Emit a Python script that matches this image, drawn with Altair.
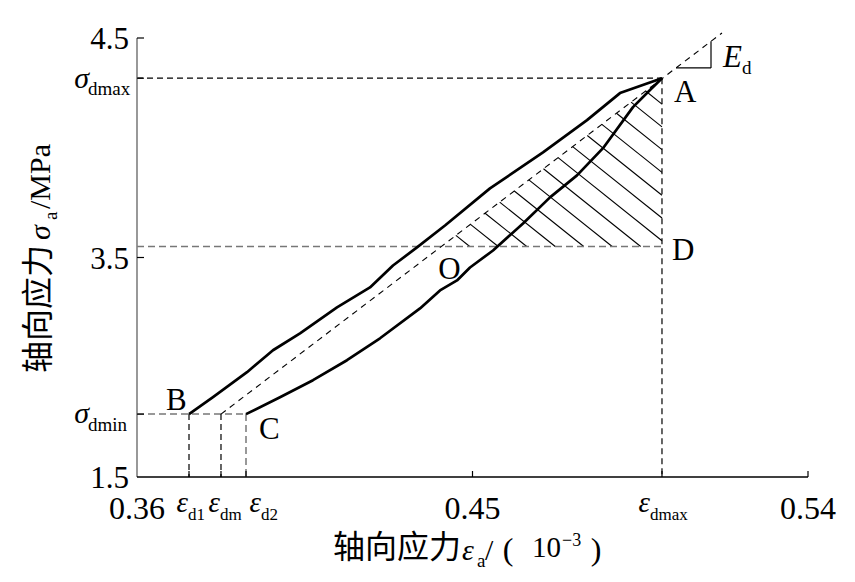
import altair as alt
import pandas as pd
import numpy as np

W, H = 671, 439
SERIF = "Liberation Serif"
CJK = "Noto Sans CJK SC"

# ---------------- data ----------------
X_DOMAIN = [0.36, 0.54]
Y_BREAKS = [1.5, 3.5, 4.5]          # the original axis is piecewise: 1.5 -> 3.5 -> 4.5 equally spaced
X_TICK_LABELS = [0.36, 0.45, 0.54]
Y_TICK_LABELS = [1.5, 3.5, 4.5]

upper_x = [0.37395, 0.38039, 0.38951, 0.39648, 0.40373, 0.41365, 0.42250, 0.42867,
           0.43511, 0.44262, 0.45469, 0.46891, 0.48072, 0.48957, 0.50083]
upper_y = [2.073, 2.227, 2.455, 2.655, 2.809, 3.045, 3.227, 3.427,
           3.546, 3.646, 3.815, 3.979, 4.126, 4.249, 4.317]

lower_x = [0.38924, 0.39836, 0.40721, 0.41633, 0.42519, 0.43592, 0.44128, 0.44584, 0.44933,
           0.45550, 0.46355, 0.47079, 0.47803, 0.48501, 0.49305, 0.49762, 0.50083]
lower_y = [2.073, 2.227, 2.382, 2.564, 2.764, 3.036, 3.200, 3.291, 3.409,
           3.532, 3.655, 3.774, 3.874, 3.998, 4.185, 4.263, 4.317]

eps_d1, eps_dm, eps_d2, eps_dmax = 0.37395, 0.38253, 0.38924, 0.50083
sig_dmin, sig_dmax, sig_D = 2.073, 4.317, 3.550
ed_end = (0.51693, 4.523)            # end of the dashed E_d line
ed_tri_x = [0.50459, 0.51398]        # slope triangle x extent
HATCH_STEP_PX = 14.6
HATCH_SLOPE_PX = 0.8

# ---------------- scales & helpers ----------------
xs = alt.Scale(domain=X_DOMAIN, range=[0, W], nice=False, zero=False)
ys = alt.Scale(domain=Y_BREAKS, range=[H, H / 2, 0], nice=False, zero=False)


def xpx(v):
    return (v - X_DOMAIN[0]) / (X_DOMAIN[1] - X_DOMAIN[0]) * W


def ypx(v):
    if v >= Y_BREAKS[1]:
        return H / 2 - (v - Y_BREAKS[1]) / (Y_BREAKS[2] - Y_BREAKS[1]) * (H / 2)
    return H - (v - Y_BREAKS[0]) / (Y_BREAKS[1] - Y_BREAKS[0]) * (H / 2)


def xdat(p):
    return X_DOMAIN[0] + p / W * (X_DOMAIN[1] - X_DOMAIN[0])


def ydat(p):
    if p <= H / 2:
        return Y_BREAKS[1] + (H / 2 - p) / (H / 2) * (Y_BREAKS[2] - Y_BREAKS[1])
    return Y_BREAKS[0] + (H - p) / (H / 2) * (Y_BREAKS[1] - Y_BREAKS[0])


X = lambda f="x": alt.X(f"{f}:Q", scale=xs, axis=None)
Y = lambda f="y": alt.Y(f"{f}:Q", scale=ys, axis=None)

# dashed line through (eps_dm, sig_dmin) and A, in pixel space
p1 = (xpx(eps_dm), ypx(sig_dmin))
p2 = (xpx(ed_end[0]), ypx(ed_end[1]))
slope = (p2[1] - p1[1]) / (p2[0] - p1[0])
line_y_at = lambda px: p1[1] + slope * (px - p1[0])
Ax, Ay = xpx(eps_dmax), ypx(sig_dmax)
yD = ypx(sig_D)
Ox = p1[0] + (yD - p1[1]) / slope

hatch = []
k = 1
while Ox + k * HATCH_STEP_PX < Ax - 2:
    sx = Ox + k * HATCH_STEP_PX
    sy = line_y_at(sx)
    ex = sx + (yD - sy) / HATCH_SLOPE_PX
    if ex <= Ax:
        ey = yD
    else:
        ex, ey = Ax, sy + HATCH_SLOPE_PX * (Ax - sx)
    hatch.append(dict(x=xdat(sx), y=ydat(sy), x2=xdat(ex), y2=ydat(ey)))
    k += 1

t0 = (xpx(ed_tri_x[0]), line_y_at(xpx(ed_tri_x[0])))
t1 = (xpx(ed_tri_x[1]), line_y_at(xpx(ed_tri_x[1])))
tri = [dict(x=xdat(t0[0]), y=ydat(t0[1]), x2=xdat(t1[0]), y2=ydat(t0[1])),
       dict(x=xdat(t1[0]), y=ydat(t0[1]), x2=xdat(t1[0]), y2=ydat(t1[1]))]

black_dash = pd.DataFrame([
    dict(x=X_DOMAIN[0], y=sig_dmax, x2=eps_dmax, y2=sig_dmax),
    dict(x=eps_dmax, y=sig_dmax, x2=eps_dmax, y2=Y_BREAKS[0]),
    dict(x=eps_d1, y=sig_dmin, x2=eps_d1, y2=Y_BREAKS[0]),
    dict(x=eps_dm, y=sig_dmin, x2=eps_dm, y2=Y_BREAKS[0]),
])
gray_dash = pd.DataFrame([
    dict(x=X_DOMAIN[0], y=sig_D, x2=eps_dmax, y2=sig_D),
    dict(x=X_DOMAIN[0], y=sig_dmin, x2=eps_d2, y2=sig_dmin),
    dict(x=eps_d2, y=sig_dmin, x2=eps_d2, y2=Y_BREAKS[0]),
])
ed_line = pd.DataFrame([dict(x=eps_dm, y=sig_dmin, x2=ed_end[0], y2=ed_end[1])])


def seg(df, color="black", width=1.2, dash=None):
    kw = dict(color=color, strokeWidth=width)
    if dash:
        kw["strokeDash"] = dash
    return alt.Chart(pd.DataFrame(df)).mark_rule(**kw).encode(
        x=X(), y=Y(), x2="x2:Q", y2="y2:Q")


curve_df = pd.concat([
    pd.DataFrame(dict(x=upper_x, y=upper_y, c="up", i=range(len(upper_x)))),
    pd.DataFrame(dict(x=lower_x, y=lower_y, c="low", i=range(len(lower_x)))),
])
curves = alt.Chart(curve_df).mark_line(color="black", strokeWidth=2.7, strokeJoin="round").encode(
    x=X(), y=Y(), detail="c:N", order="i:Q")

# axis lines and inward ticks
axis_left = alt.Chart(pd.DataFrame({"a": [0]})).mark_rule(color="#7f7f7f", strokeWidth=1.6).encode(
    x=alt.value(0), y=alt.value(0), y2=alt.value(H))
axis_bottom = alt.Chart(pd.DataFrame({"a": [0]})).mark_rule(color="black", strokeWidth=1.4).encode(
    x=alt.value(0), x2=alt.value(W), y=alt.value(H))
xt = alt.Chart(pd.DataFrame({"x": [eps_d1, eps_dm, eps_d2, 0.45, eps_dmax, 0.54]})).mark_rule(
    color="black", strokeWidth=1.2).encode(x=X(), y=alt.value(H), y2=alt.value(H - 6))
yt = alt.Chart(pd.DataFrame({"y": [sig_dmin, 3.5, sig_dmax, 4.5]})).mark_rule(
    color="black", strokeWidth=1.2).encode(y=Y(), x=alt.value(0), x2=alt.value(7))


def txt(text, x=None, y=None, px=None, py=None, size=28, font=SERIF, style="normal",
        align="left", baseline="alphabetic", dx=0, dy=0, angle=0):
    df = pd.DataFrame({"t": [text], "x": [x if x is not None else 0], "y": [y if y is not None else 0]})
    enc = dict(text="t:N")
    enc["x"] = X() if x is not None else alt.value(px)
    enc["y"] = Y() if y is not None else alt.value(py)
    return alt.Chart(df).mark_text(font=font, fontSize=size, fontStyle=style, align=align,
                                   baseline=baseline, dx=dx, dy=dy, angle=angle,
                                   color="black").encode(**enc)


texts = []
# y tick labels
for v in Y_TICK_LABELS:
    texts.append(txt(f"{v:.1f}", y=v, px=-8, align="right", dy=11, size=31))
for v, sub, d1, d2 in [(sig_dmax, "dmax", 10, 17), (sig_dmin, "dmin", 9, 17)]:
    texts.append(txt("σ", y=v, px=-48, align="right", dy=d1, size=30, style="italic"))
    texts.append(txt(sub, y=v, px=-49, align="left", dy=d2, size=19))
# x tick labels
for v in X_TICK_LABELS:
    texts.append(txt(f"{v:.2f}", x=v, py=481, align="center", size=32))
for v, sub, ddx in [(eps_d1, "d1", -1), (eps_dm, "dm", -1), (eps_d2, "d2", 15), (eps_dmax, "dmax", -12)]:
    texts.append(txt("ε", x=v, py=474, align="right", dx=ddx, size=29, style="italic"))
    texts.append(txt(sub, x=v, py=482, align="left", dx=ddx, size=17))
# point labels
O_x, O_y = xdat(Ox), sig_D
for lab, x, y, ddx, ddy in [("A", eps_dmax, sig_dmax, 12, 24), ("D", eps_dmax, sig_D, 10, 13),
                            ("B", eps_d1, sig_dmin, -23, -4), ("C", eps_d2, sig_dmin, 13, 25),
                            ("O", O_x, O_y, -3, 32)]:
    texts.append(txt(lab, x=x, y=y, dx=ddx, dy=ddy, size=31))
texts.append(txt("E", x=ed_tri_x[1], y=ydat(t0[1]), dx=12, dy=-1, size=31, style="italic"))
texts.append(txt("d", x=ed_tri_x[1], y=ydat(t0[1]), dx=31, dy=6, size=19))

# y axis title (rotated, reading upward)
texts.append(txt("轴向应力", px=-88, py=335, size=32, font=CJK, angle=270))
texts.append(txt("σ", px=-87, py=202, size=30, style="italic", angle=270))
texts.append(txt("a", px=-80, py=182, size=19, angle=270))
texts.append(txt("/MPa", px=-87, py=171, size=30, angle=270))
# x axis title
texts.append(txt("轴向应力", px=196, py=520, size=32, font=CJK))
texts.append(txt("ε", px=325, py=522, size=30, style="italic"))
texts.append(txt("a", px=340, py=529, size=19))
texts.append(txt("/", px=348, py=522, size=30))
texts.append(txt("(", px=371, py=522, size=32, align="center"))
texts.append(txt("10", px=395, py=519, size=29))
texts.append(txt("−3", px=425, py=508, size=18))
texts.append(txt(")", px=459, py=522, size=32, align="center"))

layers = [
    seg(hatch, width=1.1),
    seg(gray_dash, color="#777777", width=1.5, dash=[7, 4]),
    seg(black_dash, width=1.2, dash=[6, 4]),
    seg(ed_line, width=1.1, dash=[6, 5]),
    seg(tri, width=1.2),
    curves, axis_left, axis_bottom, xt, yt,
] + texts

chart = alt.layer(*layers).properties(
    width=W, height=H,
    autosize=alt.AutoSizeParams(type="none"),
    padding={"left": 129, "top": 30, "right": 39, "bottom": 97},
    background="white",
).configure_view(stroke=None)

chart.save("out.html", embed_options={"renderer": "svg", "actions": False})
